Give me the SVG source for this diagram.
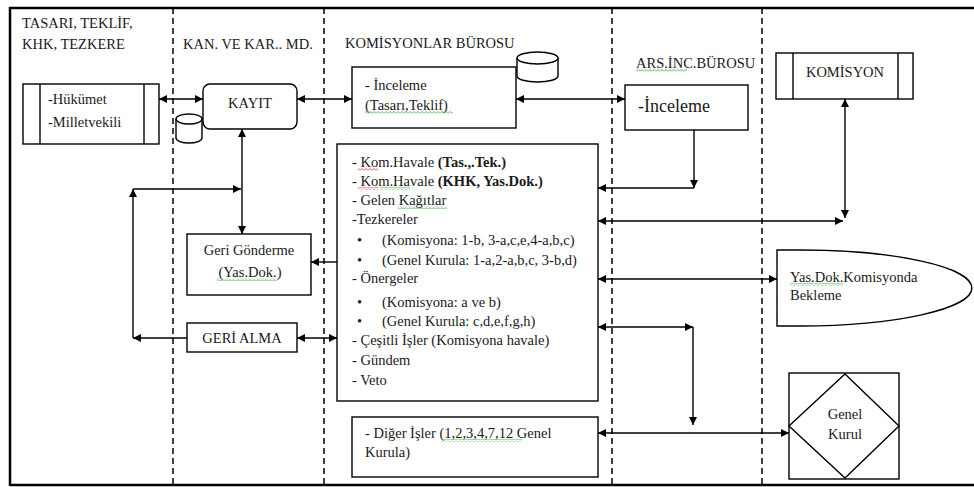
<svg xmlns="http://www.w3.org/2000/svg" width="974" height="487" viewBox="0 0 974 487">
<style>
text{font-family:"Times New Roman","Liberation Serif",Tinos,"DejaVu Serif",serif;font-size:14.5px;fill:#1a1a1a}
.hd{font-size:14.5px}
.big{font-size:18px}
.box{fill:#fff;stroke:#000;stroke-width:1.4}
.ln{fill:none;stroke:#000;stroke-width:1.4}
.dash{fill:none;stroke:#000;stroke-width:1.5;stroke-dasharray:6 4}
.frame{fill:none;stroke:#000;stroke-width:2.5}
.a2{marker-start:url(#ah);marker-end:url(#ah)}
.a1{marker-end:url(#ah)}
.b{font-weight:bold}
</style>
<defs>
<marker id="ah" viewBox="0 0 10 10" refX="10" refY="5" markerUnits="userSpaceOnUse" markerWidth="9" markerHeight="8" orient="auto-start-reverse">
<path d="M0,0 L10,5 L0,10 z" fill="#000"/>
</marker>
<pattern id="wg" patternUnits="userSpaceOnUse" width="4" height="3">
<polyline points="0,2.5 2,0.5 4,2.5" fill="none" stroke="#2a9a2a" stroke-width="0.8"/>
</pattern>
<pattern id="wr" patternUnits="userSpaceOnUse" width="4" height="3">
<polyline points="0,2.5 2,0.5 4,2.5" fill="none" stroke="#d02020" stroke-width="0.8"/>
</pattern>
</defs>
<rect width="974" height="487" fill="#fff"/>
<g id="frame">
<path class="frame" d="M10,486 V8 H974"/>
<path class="frame" d="M10,485 H974"/>
<path class="dash" d="M173,8 V487"/>
<path class="dash" d="M324,8 V487"/>
<path class="dash" d="M612,8 V487"/>
<path class="dash" d="M762,8 V487"/>
</g>
<g id="headers">
<text class="hd" x="22" y="28">TASARI, TEKLİF,</text>
<text class="hd" x="22" y="49">KHK, TEZKERE</text>
<text class="hd" x="183" y="49">KAN. VE KAR.. MD.</text>
<text class="hd" x="345" y="48">KOMİSYONLAR BÜROSU</text>
<text class="hd" x="636" y="68">ARS.İNC.BÜROSU</text>
<rect x="636" y="69" width="51" height="3" fill="url(#wg)"/>
</g>
<g id="hukumet">
<rect class="box" x="23" y="84" width="136" height="60"/>
<path class="ln" d="M40,84 V144 M144,84 V144"/>
<text x="48" y="104">-Hükümet</text>
<text x="48" y="127">-Milletvekili</text>
</g>
<g id="db1">
<path class="box" d="M176,119 V138 A13,5 0 0 0 202,138 V119"/>
<ellipse class="box" cx="189" cy="119" rx="13" ry="5"/>
</g>
<g id="kayit">
<rect class="box" x="203" y="84" width="94" height="45" rx="7"/>
<text x="250" y="108" text-anchor="middle">KAYIT</text>
</g>
<g id="geri-gonderme">
<rect class="box" x="187" y="234" width="124" height="61"/>
<text x="249" y="255" text-anchor="middle">Geri Gönderme</text>
<text x="250" y="277" text-anchor="middle">(Yas.Dok.)</text>
<rect x="217" y="278" width="60" height="3" fill="url(#wg)"/>
</g>
<g id="geri-alma">
<rect class="box" x="187" y="323" width="110" height="29"/>
<text x="242" y="343" text-anchor="middle">GERİ ALMA</text>
</g>
<g id="inceleme-tasari">
<rect class="box" x="352" y="67" width="164" height="61"/>
<text x="365" y="90">- İnceleme</text>
<text x="365" y="110">(Tasarı,Teklif)</text>
<rect x="365" y="111" width="88" height="3" fill="url(#wg)"/>
</g>
<g id="db2">
<path class="box" d="M517,58 V76 A20.5,6 0 0 0 558,76 V58"/>
<ellipse class="box" cx="537.5" cy="58" rx="20.5" ry="6"/>
</g>
<g id="ars-inceleme">
<rect class="box" x="625" y="85" width="123" height="45"/>
<text class="big" x="638" y="112">-İnceleme</text>
</g>
<g id="komisyonlar-isler">
<rect class="box" x="337" y="144" width="261" height="257"/>
<text x="352" y="167">- Kom.Havale <tspan class="b">(Tas.,.Tek.)</tspan></text>
<text x="352" y="186">- Kom.Havale <tspan class="b">(KHK, Yas.Dok.)</tspan></text>
<text x="352" y="205">- Gelen Kağıtlar</text>
<text x="352" y="224">-Tezkereler</text>
<text x="357" y="245">•</text>
<text x="382" y="245">(Komisyona: 1-b, 3-a,c,e,4-a,b,c)</text>
<text x="357" y="265">•</text>
<text x="382" y="265">(Genel Kurula: 1-a,2-a,b,c, 3-b,d)</text>
<text x="352" y="283">- Önergeler</text>
<text x="357" y="307">•</text>
<text x="382" y="307">(Komisyona: a ve b)</text>
<text x="357" y="326">•</text>
<text x="382" y="326">(Genel Kurula: c,d,e,f,g,h)</text>
<text x="352" y="345">- Çeşitli İşler (Komisyona havale)</text>
<text x="352" y="365">- Gündem</text>
<text x="352" y="385">- Veto</text>
<rect x="358" y="168" width="20" height="3" fill="url(#wr)"/>
<rect x="358" y="187" width="20" height="3" fill="url(#wr)"/>
<rect x="380" y="187" width="30" height="3" fill="url(#wg)"/>
<rect x="398" y="206" width="49" height="3" fill="url(#wg)"/>
</g>
<g id="diger-isler">
<rect class="box" x="352" y="417" width="246" height="60"/>
<text x="365" y="438">- Diğer İşler (1,2,3,4,7,12 Genel</text>
<text x="365" y="457">Kurula)</text>
<rect x="442" y="439" width="80" height="3" fill="url(#wg)"/>
</g>
<g id="komisyon">
<rect class="box" x="776" y="53" width="137" height="46"/>
<path class="ln" d="M793,53 V99 M898,53 V99"/>
<text x="845" y="77" text-anchor="middle">KOMİSYON</text>
</g>
<g id="yasdok-bekleme">
<path class="box" d="M777,250 H800 A172,38 0 0 1 800,326 H777 Z"/>
<text x="790" y="282">Yas.Dok.Komisyonda</text>
<text x="790" y="300">Bekleme</text>
<rect x="790" y="283" width="53" height="3" fill="url(#wg)"/>
</g>
<g id="genel-kurul">
<rect class="box" x="789" y="373" width="110" height="106"/>
<path class="ln" d="M845,374 L899,426 L845,478 L789,426 Z"/>
<text x="845" y="419" text-anchor="middle">Genel</text>
<text x="845" y="439" text-anchor="middle">Kurul</text>
</g>
<g id="connectors">
<path class="ln a2" d="M159,99 H203"/>
<path class="ln a2" d="M297,99 H352"/>
<path class="ln a2" d="M516,99 H625"/>
<path class="ln a2" d="M242,129 V234"/>
<path class="ln a1" d="M187,338 H133"/>
<path class="ln a1" d="M133,338 V189"/>
<path class="ln a1" d="M133,189 H241"/>
<path class="ln a1" d="M337,262 H311"/>
<path class="ln a2" d="M297,338 H337"/>
<path class="ln a1" d="M694,130 V188"/>
<path class="ln a1" d="M694,188 H598"/>
<path class="ln a2" d="M845,99 V218"/>
<path class="ln a2" d="M598,221 H843"/>
<path class="ln a2" d="M598,279 H777"/>
<path class="ln a2" d="M598,327 H693"/>
<path class="ln a1" d="M693,327 V425"/>
<path class="ln a2" d="M598,433 H789"/>
</g>
</svg>
